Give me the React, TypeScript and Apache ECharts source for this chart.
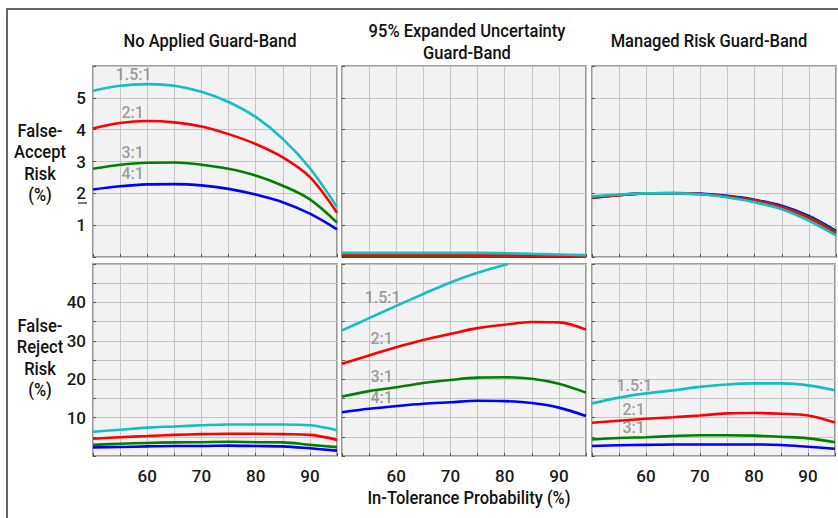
import React, { useEffect, useRef } from "react";
import * as echarts from "echarts";

const xs = [50, 55, 60, 65, 70, 75, 80, 85, 90, 95];

// False-accept risk (%)
const faNoCyan = [5.22, 5.38, 5.43, 5.38, 5.19, 4.87, 4.4, 3.71, 2.79, 1.57];
const faNoRed = [4.04, 4.21, 4.27, 4.23, 4.1, 3.86, 3.55, 3.13, 2.51, 1.39];
const faNoGreen = [2.77, 2.9, 2.96, 2.97, 2.9, 2.77, 2.56, 2.24, 1.81, 1.08];
const faNoBlue = [2.12, 2.22, 2.28, 2.29, 2.25, 2.14, 1.96, 1.72, 1.36, 0.87];

const faExpCyan = [0.13, 0.13, 0.13, 0.13, 0.13, 0.13, 0.12, 0.1, 0.08, 0.06];
const faExpRed = [0.06, 0.06, 0.06, 0.06, 0.06, 0.05, 0.05, 0.04, 0.03, 0.03];
const faExpGreen = [0.03, 0.03, 0.03, 0.03, 0.03, 0.03, 0.02, 0.02, 0.02, 0.01];
const faExpBlue = [0.02, 0.02, 0.02, 0.02, 0.02, 0.02, 0.02, 0.01, 0.01, 0.01];

const faMrBlue = [1.87, 1.95, 2.0, 2.01, 1.99, 1.92, 1.8, 1.61, 1.29, 0.82];
const faMrGreen = [1.86, 1.94, 2.0, 2.0, 1.98, 1.9, 1.78, 1.58, 1.25, 0.78];
const faMrRed = [1.86, 1.94, 2.0, 2.0, 1.98, 1.89, 1.76, 1.56, 1.22, 0.75];
const faMrCyan = [1.91, 1.96, 2.0, 2.0, 1.97, 1.87, 1.72, 1.5, 1.14, 0.68];

// False-reject risk (%)
const frNoCyan = [6.3, 6.85, 7.4, 7.7, 8.0, 8.2, 8.2, 8.2, 8.0, 6.7];
const frNoRed = [4.5, 4.9, 5.2, 5.5, 5.7, 5.8, 5.8, 5.7, 5.5, 4.2];
const frNoGreen = [2.9, 3.2, 3.4, 3.55, 3.6, 3.7, 3.6, 3.55, 2.9, 2.3];
const frNoBlue = [2.25, 2.35, 2.5, 2.6, 2.6, 2.7, 2.6, 2.5, 2.0, 1.4];

const frExpCyanX = [50, 55, 60, 65, 70, 75, 80.6];
const frExpCyan = [32.7, 35.9, 39.1, 42.2, 45.2, 47.7, 50.0];
const frExpRed = [24.0, 26.2, 28.3, 30.2, 31.8, 33.3, 34.2, 34.9, 34.8, 32.9];
const frExpGreen = [15.5, 16.9, 17.9, 19.0, 19.8, 20.4, 20.5, 20.1, 18.8, 16.5];
const frExpBlue = [11.4, 12.3, 13.0, 13.6, 14.0, 14.4, 14.3, 13.8, 12.6, 10.4];

const frMrCyan = [13.7, 15.2, 16.3, 17.1, 18.0, 18.6, 18.9, 18.9, 18.4, 17.1];
const frMrRed = [8.65, 9.2, 9.7, 10.1, 10.55, 11.1, 11.2, 11.0, 10.55, 8.7];
const frMrGreen = [4.3, 4.7, 4.9, 5.2, 5.4, 5.4, 5.3, 5.0, 4.6, 3.6];
const frMrBlue = [2.6, 2.8, 2.9, 3.0, 3.0, 3.0, 3.0, 2.85, 2.4, 1.9];

// Ratio labels: [x, y, text]
const labelsFaNo: [number, number, string][] = [
  [57.5, 5.74, "1.5:1"],
  [57.3, 4.54, "2:1"],
  [57.3, 3.29, "3:1"],
  [57.3, 2.61, "4:1"],
];
const labelsFrExp: [number, number, string][] = [
  [57.5, 41.3, "1.5:1"],
  [57.3, 30.5, "2:1"],
  [57.3, 20.7, "3:1"],
  [57.3, 15.3, "4:1"],
];
const labelsFrMr: [number, number, string][] = [
  [57.85, 18.4, "1.5:1"],
  [57.7, 12.2, "2:1"],
  [57.7, 7.35, "3:1"],
];

const topTicks = [1, 2, 3, 4, 5];
const bottomTicks = [10, 20, 30, 40];
const xTicks = [60, 70, 80, 90];

const colTitles = ["No Applied Guard-Band", "95% Expanded Uncertainty\nGuard-Band", "Managed Risk Guard-Band"];
const rowTitles = ["False-\nAccept\nRisk\n(%)", "False-\nReject\nRisk\n(%)"];
const xTitle = "In-Tolerance Probability (%)";

const CYAN = "#14bfc2";
const RED = "#ff0000";
const GREEN = "#008000";
const BLUE = "#0000ff";

const FONT = "Roboto, 'DejaVu Sans Condensed', sans-serif";

export default function App() {
  const ref = useRef<HTMLDivElement>(null);
  useEffect(() => {
    document.body.style.margin = "0";
    const chart = echarts.init(ref.current!, null, { renderer: "svg" });

    const lefts = [93, 342, 592];
    const tops = [66, 264];
    const heights = [191, 192];
    const W = 244;

    const grids: any[] = [];
    const xAxes: any[] = [];
    const yAxes: any[] = [];
    const series: any[] = [];

    const panels = [
      { lines: [[xs, faNoBlue, BLUE], [xs, faNoGreen, GREEN], [xs, faNoRed, RED], [xs, faNoCyan, CYAN]], labels: labelsFaNo },
      { lines: [[xs, faExpBlue, BLUE], [xs, faExpGreen, GREEN], [xs, faExpRed, RED], [xs, faExpCyan, CYAN]], labels: [] },
      { lines: [[xs, faMrBlue, BLUE], [xs, faMrGreen, GREEN], [xs, faMrRed, RED], [xs, faMrCyan, CYAN]], labels: [] },
      { lines: [[xs, frNoBlue, BLUE], [xs, frNoGreen, GREEN], [xs, frNoRed, RED], [xs, frNoCyan, CYAN]], labels: [] },
      { lines: [[xs, frExpBlue, BLUE], [xs, frExpGreen, GREEN], [xs, frExpRed, RED], [frExpCyanX, frExpCyan, CYAN]], labels: labelsFrExp },
      { lines: [[xs, frMrBlue, BLUE], [xs, frMrGreen, GREEN], [xs, frMrRed, RED], [xs, frMrCyan, CYAN]], labels: labelsFrMr },
    ];

    panels.forEach((p, i) => {
      const row = Math.floor(i / 3);
      const col = i % 3;
      grids.push({
        left: lefts[col],
        top: tops[row],
        width: W,
        height: heights[row],
        show: true,
        backgroundColor: "#f2f2f2",
        borderColor: "#808080",
        borderWidth: 1.6,
      });
      xAxes.push({
        type: "value",
        gridIndex: i,
        min: 50,
        max: 95,
        interval: 5,
        axisLine: { show: false },
        axisTick: { show: true, inside: true, length: 3, lineStyle: { color: "#555", width: 1 } },
        splitLine: { show: true, lineStyle: { color: "#c4c4c4", width: 1 } },
        axisLabel: {
          show: row === 1,
          margin: 11,
          fontFamily: FONT,
          fontSize: 17,
          fontWeight: 500,
          color: "#1a1a1a",
          formatter: (v: number) => (xTicks.includes(v) ? String(v) : ""),
        },
      });
      const isTop = row === 0;
      yAxes.push({
        type: "value",
        gridIndex: i,
        min: 0,
        max: isTop ? 6 : 50,
        interval: isTop ? 1 : 5,
        axisLine: { show: false },
        axisTick: { show: true, inside: true, length: 3, lineStyle: { color: "#555", width: 1 } },
        splitLine: { show: true, lineStyle: { color: "#c4c4c4", width: 1 } },
        axisLabel: {
          show: col === 0,
          margin: 7,
          fontFamily: FONT,
          fontSize: 17,
          fontWeight: 500,
          color: "#1a1a1a",
          formatter: (v: number) =>
            (isTop ? topTicks : bottomTicks).includes(v) ? String(v) : "",
        },
      });
      p.lines.forEach((l: any) => {
        const [lx, ly, color] = l;
        series.push({
          type: "line",
          xAxisIndex: i,
          yAxisIndex: i,
          data: (lx as number[]).map((x, k) => [x, ly[k]]),
          smooth: 0.35,
          symbol: "none",
          clip: true,
          lineStyle: { color, width: 2.6 },
          z: 3,
        });
      });
      if (p.labels.length) {
        series.push({
          type: "scatter",
          xAxisIndex: i,
          yAxisIndex: i,
          symbolSize: 0,
          z: 4,
          data: p.labels.map((d: any) => ({ value: [d[0], d[1]], name: d[2] })),
          label: {
            show: true,
            position: "inside",
            formatter: "{b}",
            fontFamily: FONT,
            fontSize: 16,
            fontWeight: 500,
            color: "#858585",
            textBorderWidth: 0,
          },
        });
      }
    });

    const SX = 0.87;
    const TF = `500 19px ${FONT}`;
    const graphic: any[] = [
      {
        type: "rect",
        shape: { x: 7, y: 9, width: 900, height: 600 },
        style: { fill: "none", stroke: "#333", lineWidth: 1.5 },
        silent: true,
      },
      {
        type: "text",
        x: 210,
        y: 40,
        scaleX: SX,
        style: { text: colTitles[0], font: TF, fill: "#111", align: "center", verticalAlign: "middle" },
      },
      {
        type: "text",
        x: 467,
        y: 41,
        scaleX: SX,
        style: { text: colTitles[1], font: TF, fill: "#111", align: "center", verticalAlign: "middle", lineHeight: 21.5 },
      },
      {
        type: "text",
        x: 709,
        y: 40,
        scaleX: SX,
        style: { text: colTitles[2], font: TF, fill: "#111", align: "center", verticalAlign: "middle" },
      },
      {
        type: "text",
        x: 40,
        y: 162,
        scaleX: SX,
        style: { text: rowTitles[0], font: TF, fill: "#111", align: "center", verticalAlign: "middle", lineHeight: 21.3 },
      },
      {
        type: "text",
        x: 40,
        y: 357,
        scaleX: SX,
        style: { text: rowTitles[1], font: TF, fill: "#111", align: "center", verticalAlign: "middle", lineHeight: 21.3 },
      },
      {
        type: "text",
        x: 469,
        y: 497,
        scaleX: SX,
        style: { text: xTitle, font: TF, fill: "#111", align: "center", verticalAlign: "middle" },
      },
      {
        type: "line",
        shape: { x1: 78, y1: 203, x2: 87, y2: 203 },
        style: { stroke: "#222", lineWidth: 1.2 },
      },
    ];

    chart.setOption({
      animation: false,
      grid: grids,
      xAxis: xAxes,
      yAxis: yAxes,
      series,
      graphic,
    });
    return () => chart.dispose();
  }, []);
  return <div ref={ref} style={{ width: 838, height: 518 }} />;
}
